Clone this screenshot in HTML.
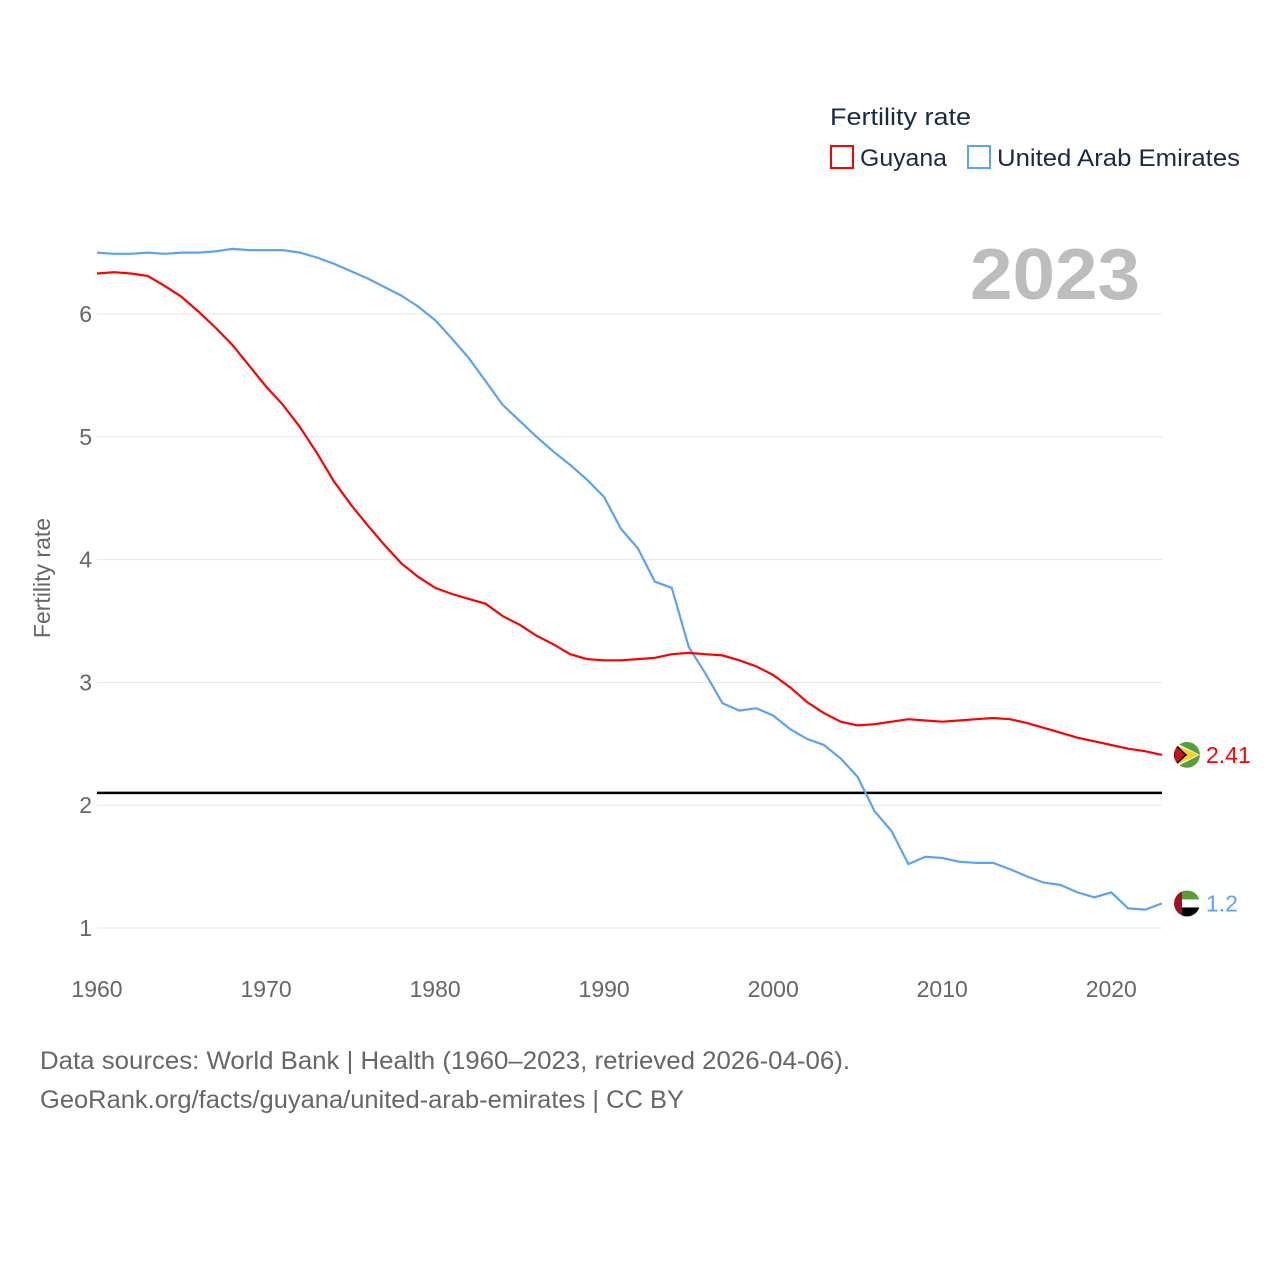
<!DOCTYPE html>
<html><head><meta charset="utf-8"><style>
body{margin:0;background:#fff;width:1280px;height:1280px;overflow:hidden;font-family:"Liberation Sans",sans-serif}
svg text{font-family:"Liberation Sans",sans-serif}
</style></head><body>
<svg id="chart" width="1280" height="1280" xmlns="http://www.w3.org/2000/svg">
<defs>
<clipPath id="cg"><circle id="cgc" cx="1187" cy="0" r="13"/></clipPath>
<clipPath id="cu"><circle id="cuc" cx="1187" cy="0" r="13"/></clipPath>
</defs>
<g id="grid"></g>
<g id="series"></g>
<text x="830" y="125" font-size="24" fill="#1a2a44" textLength="141" lengthAdjust="spacingAndGlyphs">Fertility rate</text>
<rect x="831" y="146" width="22" height="22" fill="none" stroke="#f00" stroke-width="2"/>
<text x="860" y="166" font-size="24" fill="#1a2a44" textLength="87" lengthAdjust="spacingAndGlyphs">Guyana</text>
<rect x="968" y="146" width="22" height="22" fill="none" stroke="#5ba4ec" stroke-width="2"/>
<text x="997" y="166" font-size="24" fill="#1a2a44" textLength="243" lengthAdjust="spacingAndGlyphs">United Arab Emirates</text>
<text x="970" y="299" font-size="72" font-weight="bold" fill="#bdbdbd" textLength="170" lengthAdjust="spacingAndGlyphs">2023</text>
<text transform="translate(50,578) rotate(-90)" font-size="23" fill="#666" text-anchor="middle">Fertility rate</text>
<text x="40" y="1069" font-size="25" fill="#666" textLength="810" lengthAdjust="spacingAndGlyphs">Data sources: World Bank | Health (1960–2023, retrieved 2026-04-06).</text>
<text x="40" y="1108" font-size="25" fill="#666" textLength="644" lengthAdjust="spacingAndGlyphs">GeoRank.org/facts/guyana/united-arab-emirates | CC BY</text>
</svg>
<script>
const years=[];for(let y=1960;y<=2023;y++)years.push(y);
const guyana=[6.33,6.34,6.33,6.31,6.23,6.14,6.02,5.89,5.75,5.58,5.41,5.26,5.08,4.87,4.64,4.45,4.28,4.12,3.97,3.86,3.77,3.72,3.68,3.64,3.54,3.47,3.38,3.31,3.23,3.19,3.18,3.18,3.19,3.2,3.23,3.24,3.23,3.22,3.18,3.13,3.06,2.96,2.84,2.75,2.68,2.65,2.66,2.68,2.70,2.69,2.68,2.69,2.70,2.71,2.70,2.67,2.63,2.59,2.55,2.52,2.49,2.46,2.44,2.41];
const uae=[6.50,6.49,6.49,6.50,6.49,6.50,6.50,6.51,6.53,6.52,6.52,6.52,6.50,6.46,6.41,6.35,6.29,6.22,6.15,6.06,5.95,5.80,5.64,5.45,5.26,5.13,5.00,4.88,4.77,4.65,4.51,4.25,4.09,3.82,3.77,3.29,3.07,2.83,2.77,2.79,2.73,2.62,2.54,2.49,2.38,2.23,1.95,1.79,1.52,1.58,1.57,1.54,1.53,1.53,1.48,1.42,1.37,1.35,1.29,1.25,1.29,1.16,1.15,1.20];
const yTicks=[1,2,3,4,5,6];
const xTicks=[1960,1970,1980,1990,2000,2010,2020];
const replacement=2.1;
const X=y=>97+(y-1960)*(1162-97)/63;
const Y=v=>928-(v-1)*122.8;
const NS="http://www.w3.org/2000/svg";
const grid=document.getElementById('grid'),ser=document.getElementById('series');
function mk(t,a,p){const e=document.createElementNS(NS,t);for(const k in a)e.setAttribute(k,a[k]);p.appendChild(e);return e;}
yTicks.forEach(v=>{
 const l=mk('line',{x1:97,x2:1162,y1:Y(v),y2:Y(v),stroke:'#e6e6e6','stroke-width':1},grid);
 
 
 const t=mk('text',{x:92,y:Y(v)+8,'font-size':23,fill:'#666','text-anchor':'end'},grid);t.textContent=v;
 
 
});
xTicks.forEach(v=>{
 const t=mk('text',{x:X(v),y:997,'font-size':23,fill:'#666','text-anchor':'middle'},grid);t.textContent=v;
 
 
});
const ref=mk('line',{x1:97,x2:1162,y1:Y(replacement),y2:Y(replacement),stroke:'#000','stroke-width':2.5},ser);


function line(d,c,n){const p=mk('path',{d:d.map((v,i)=>(i?'L':'M')+X(years[i]).toFixed(1)+','+Y(v).toFixed(1)).join(''),fill:'none',stroke:c,'stroke-width':2.2},ser);
 
 }
line(uae,'#5ba4ec','line-uae');line(guyana,'#f00','line-guyana');
const last=years.length-1;
function endLabel(v,c,n,txt){
 const cx=1187,cy=Y(v);
 const isG=c==='#f00';
 document.getElementById(isG?'cgc':'cuc').setAttribute('cy',cy);
 const g=mk('g',{'clip-path':isG?'url(#cg)':'url(#cu)'},ser);
 
 
 mk('circle',{cx:cx,cy:cy,r:13,fill:isG?'#5a9e3a':'#fff'},g);
 if(isG){mk('path',{d:`M${cx-13},${cy-13}L${cx+13},${cy}L${cx-13},${cy+13}Z`,fill:'#fff'},g);mk('path',{d:`M${cx-13},${cy-11}L${cx+12},${cy}L${cx-13},${cy+11}Z`,fill:'#f5d130'},g);mk('path',{d:`M${cx-13},${cy-11}L${cx-1},${cy}L${cx-13},${cy+11}Z`,fill:'#d0101a',stroke:'#000','stroke-width':1.5},g);}
 else{mk('rect',{x:cx-5,y:cy-13,width:18,height:9,fill:'#5a9e3a'},g);mk('rect',{x:cx-5,y:cy+4,width:18,height:9,fill:'#000'},g);mk('rect',{x:cx-13,y:cy-13,width:8,height:26,fill:'#a01025'},g);}
 const t=mk('text',{x:1206,y:cy+8,'font-size':23,fill:c},ser);t.textContent=txt;
 
 
}
endLabel(guyana[last],'#f00','guyana',String(guyana[last]));
endLabel(uae[last],'#5ba4ec','uae',String(uae[last]));
</script>
</body></html>
